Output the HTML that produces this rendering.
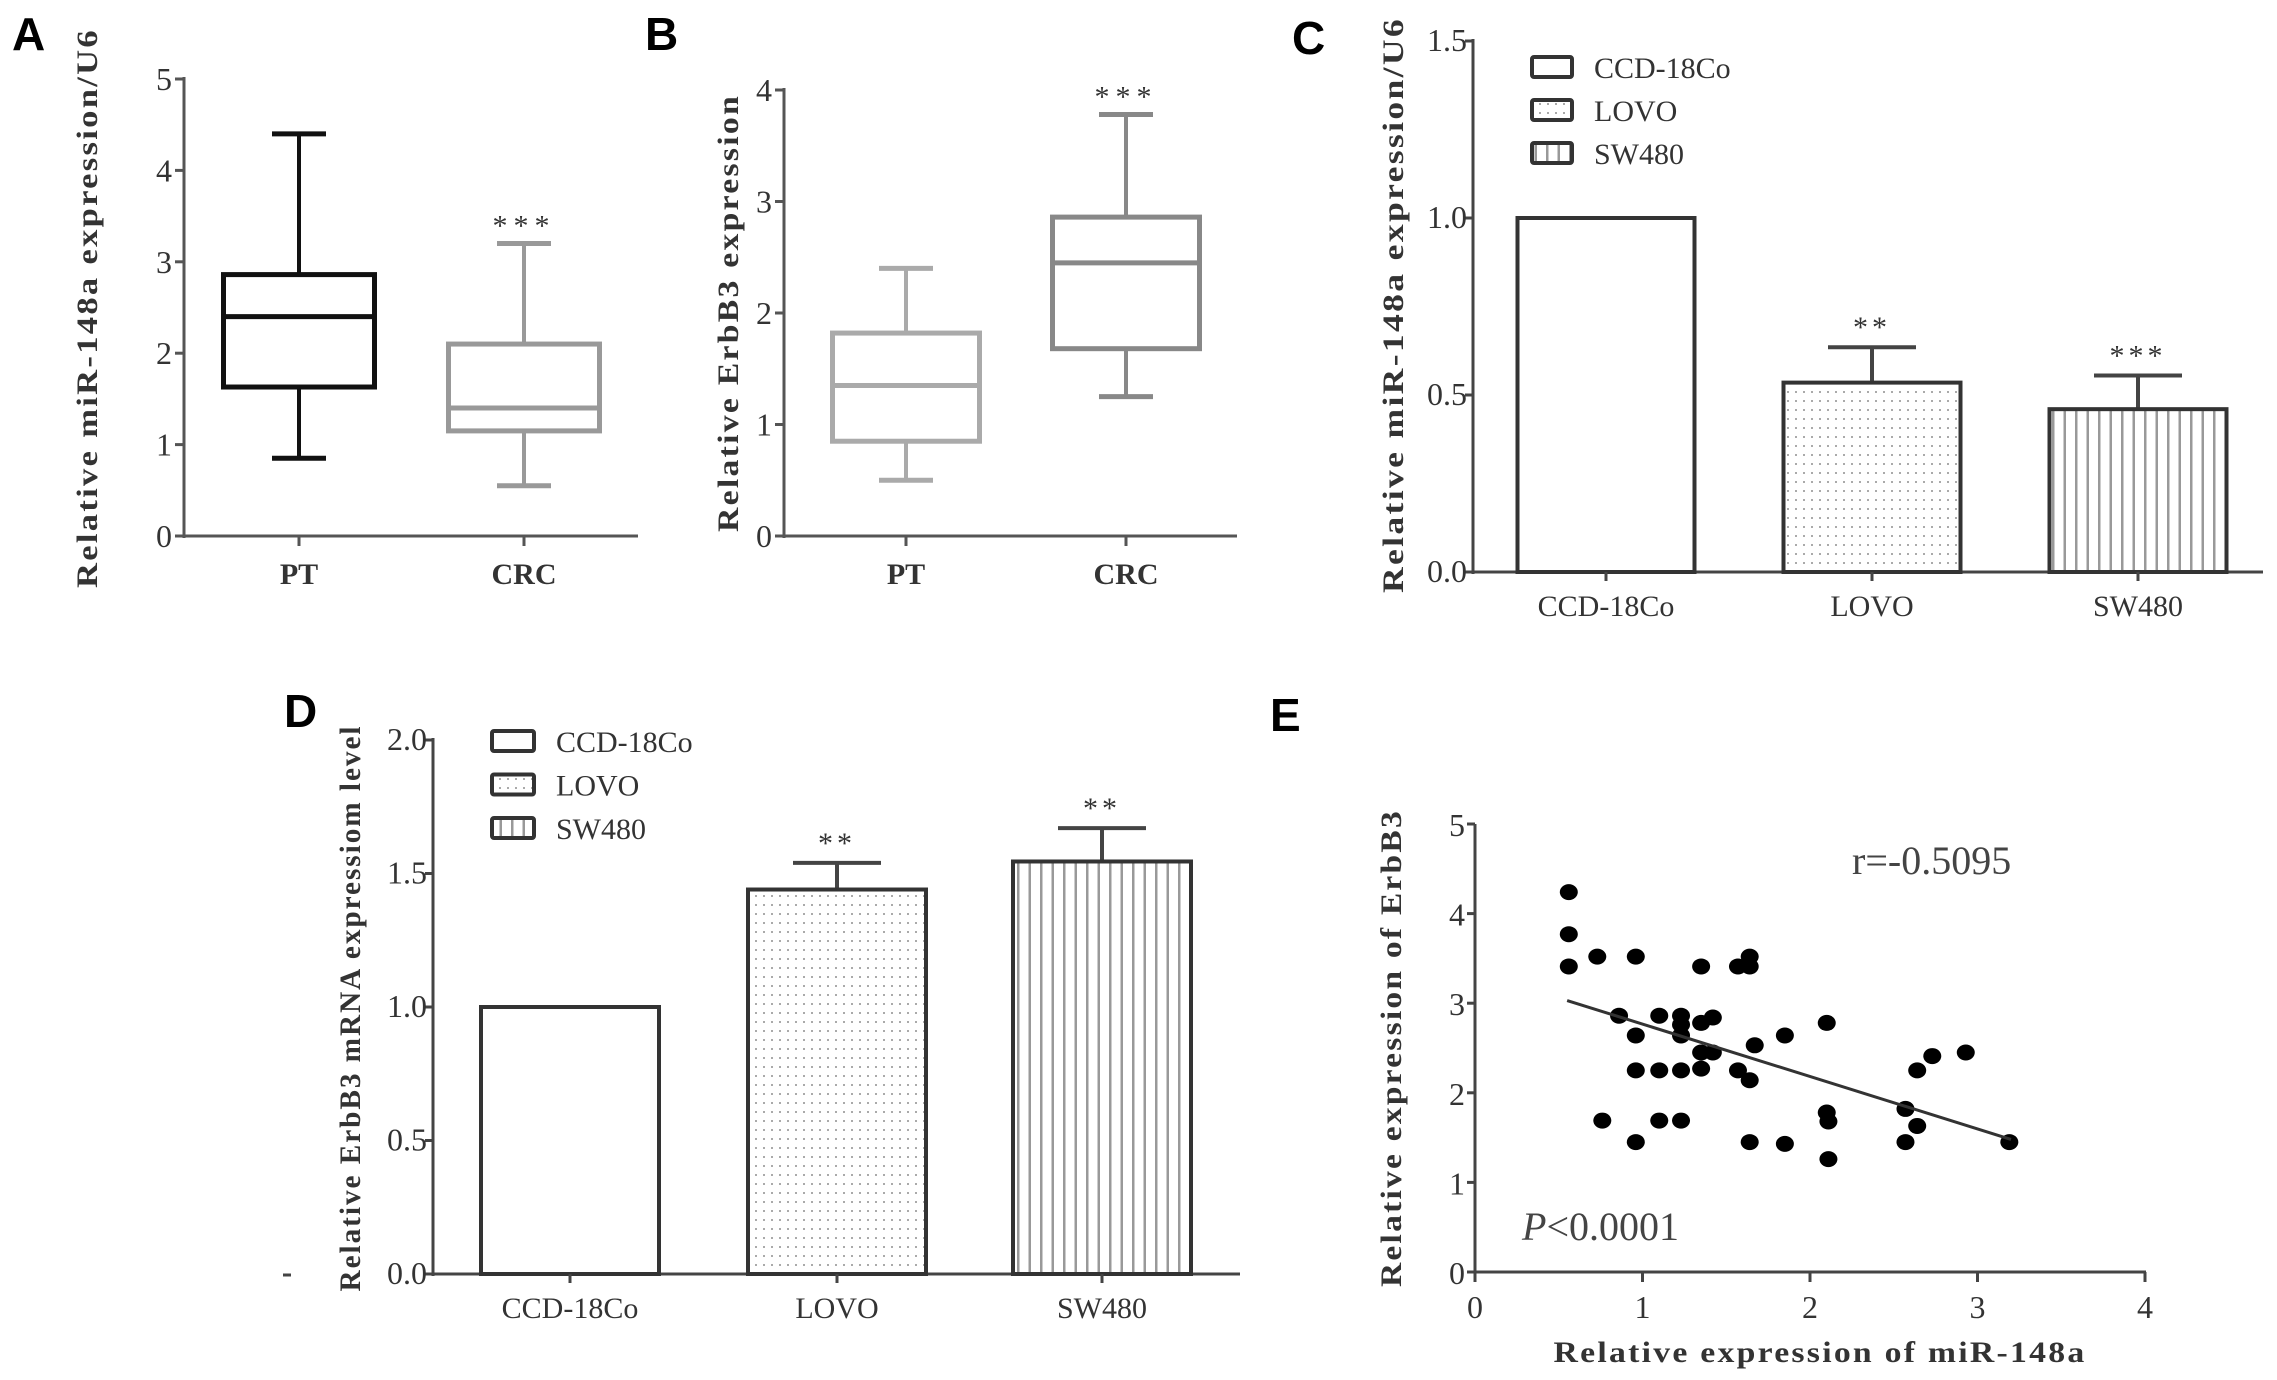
<!DOCTYPE html>
<html><head><meta charset="utf-8"><style>
html,body{margin:0;padding:0;background:#fff;}
svg{display:block;}
text{font-family:"Liberation Serif",serif;}
.lbl{font-family:"Liberation Sans",sans-serif;font-size:46px;font-weight:bold;fill:#000;}
.tick{font-size:32px;fill:#333;}
.cat{font-size:30px;fill:#333;}
.ytitle{font-size:30px;font-weight:bold;fill:#333;letter-spacing:2px;}
.leg{font-size:30px;fill:#333;}
</style></head><body>
<svg id="fig" width="2277" height="1380" viewBox="0 0 2277 1380" xmlns="http://www.w3.org/2000/svg">
<defs>
<pattern id="dots" width="8" height="9" patternUnits="userSpaceOnUse"><rect x="3" y="4" width="2" height="2" fill="#aaa"/></pattern>
<pattern id="vlines" width="11.5" height="10" patternUnits="userSpaceOnUse"><rect x="5" y="0" width="2.5" height="10" fill="#999"/></pattern>
</defs>
<g id="gA"></g>
<g id="gB"></g>
<g id="gC"></g>
<g id="gD"></g>
<g id="gE"></g>
</svg>
<script>
// Panel A data
const aCats = ["PT","CRC"];
const aMin = [0.85,0.55], aQ1=[1.63,1.15], aMed=[2.4,1.4], aQ3=[2.86,2.1], aMax=[4.4,3.2];
const aTicks = [0,1,2,3,4,5];
// Panel B data
const bCats = ["PT","CRC"];
const bMin = [0.5,1.25], bQ1=[0.85,1.68], bMed=[1.35,2.45], bQ3=[1.82,2.86], bMax=[2.4,3.78];
const bTicks = [0,1,2,3,4];
// Panel C data
const cCats = ["CCD-18Co","LOVO","SW480"];
const cVals = [1.0,0.535,0.46];
const cErr = [0,0.1,0.095];
const cSig = ["","**","***"];
const cTicks = ["0.0","0.5","1.0","1.5"];
// Panel D data
const dCats = ["CCD-18Co","LOVO","SW480"];
const dVals = [1.0,1.44,1.545];
const dErr = [0,0.1,0.125];
const dSig = ["","**","**"];
const dTicks = ["0.0","0.5","1.0","1.5","2.0"];
// Panel E data
const eX = [0.56,0.56,0.56,0.73,0.96,0.86,0.96,0.96,0.96,0.76,1.10,1.10,1.10,1.23,1.23,1.23,1.23,1.23,1.35,1.35,1.35,1.35,1.42,1.42,1.57,1.64,1.64,1.57,1.64,1.67,1.64,1.85,1.85,2.10,2.10,2.11,2.11,2.57,2.57,2.64,2.64,2.73,2.93,3.19];
const eY = [4.24,3.77,3.41,3.52,3.52,2.86,2.64,2.25,1.45,1.69,2.86,2.25,1.69,2.86,2.76,2.64,2.25,1.69,3.41,2.78,2.45,2.27,2.84,2.45,3.41,3.52,3.41,2.25,2.14,2.53,1.45,2.64,1.43,2.78,1.78,1.68,1.26,1.82,1.45,2.25,1.63,2.41,2.45,1.45];
const eFitX = [0.55,3.2];
const eFitY = [3.03,1.48];
const eXTicks = [0,1,2,3,4];
const eYTicks = [0,1,2,3,4,5];

const NS="http://www.w3.org/2000/svg";
function mk(parent,tag,attrs,txt){const e=document.createElementNS(NS,tag);for(const k in attrs)e.setAttribute(k,attrs[k]);if(txt!==undefined)e.textContent=txt;parent.appendChild(e);return e;}

function axes(g,x0,y0,xEnd,yTop,col){
  const ya=mk(g,'line',{x1:x0,y1:y0+2,x2:x0,y2:yTop,stroke:col,'stroke-width':3});
  
  
  const xa=mk(g,'line',{x1:x0-2,y1:y0,x2:xEnd,y2:y0,stroke:col,'stroke-width':3});
  
  
}
function yTitle(g,cx,cy,len,txt){
  const t=mk(g,'text',{class:'ytitle',x:0,y:0,'text-anchor':'middle',transform:`translate(${cx},${cy}) rotate(-90)`,textLength:len,lengthAdjust:'spacingAndGlyphs'},txt);
  
  
}
function panelLetter(g,x,y,s){
  const t=mk(g,'text',{class:'lbl',x:x,y:y},s);
  
  
}

function boxPanel(g,cfg){
  const {x0,y0,unit,xEnd,top,cats,mins,q1,med,q3,maxs,ticks,cx,bw,colors,title,titleX,titleLen,titleCy} = cfg;
  const Y=v=>y0-v*unit;
  axes(g,x0,y0,xEnd,Y(ticks[ticks.length-1])-2,'#555');
  ticks.forEach(t=>{
    const l=mk(g,'line',{x1:x0-9,y1:Y(t),x2:x0,y2:Y(t),stroke:'#555','stroke-width':3});
    
    
    const tx=mk(g,'text',{class:'tick',x:x0-12,y:Y(t)+11,'text-anchor':'end'},t);
    
    
  });
  cats.forEach((c,i)=>{
    const x=cx[i], col=colors[i];
    const bg=mk(g,'g',{});
    
    
    mk(bg,'line',{x1:x,y1:Y(maxs[i]),x2:x,y2:Y(q3[i]),stroke:col,'stroke-width':4});
    mk(bg,'line',{x1:x,y1:Y(q1[i]),x2:x,y2:Y(mins[i]),stroke:col,'stroke-width':4});
    mk(bg,'line',{x1:x-27,y1:Y(maxs[i]),x2:x+27,y2:Y(maxs[i]),stroke:col,'stroke-width':5});
    mk(bg,'line',{x1:x-27,y1:Y(mins[i]),x2:x+27,y2:Y(mins[i]),stroke:col,'stroke-width':5});
    mk(bg,'rect',{x:x-bw/2,y:Y(q3[i]),width:bw,height:Y(q1[i])-Y(q3[i]),fill:'none',stroke:col,'stroke-width':5});
    mk(bg,'line',{x1:x-bw/2,y1:Y(med[i]),x2:x+bw/2,y2:Y(med[i]),stroke:col,'stroke-width':5});
    const tk=mk(g,'line',{x1:x,y1:y0,x2:x,y2:y0+10,stroke:'#555','stroke-width':3});
    
    
    const cl=mk(g,'text',{class:'cat',x:x,y:y0+48,'text-anchor':'middle','font-weight':'bold','font-size':'32'},c);
    
    
  });
  const st=mk(g,'text',{class:'cat',x:cx[1],y:Y(maxs[1])-8,'text-anchor':'middle',fill:'#777','font-size':'38','letter-spacing':'6'},'***');
  
  
  yTitle(g,titleX,titleCy,titleLen,title);
}

boxPanel(document.getElementById('gA'),{x0:184,y0:536,unit:91.4,xEnd:638,cats:aCats,mins:aMin,q1:aQ1,med:aMed,q3:aQ3,maxs:aMax,ticks:aTicks,cx:[299,524],bw:151,colors:['#111','#999'],title:'Relative miR-148a expression/U6',titleX:97,titleLen:560,titleCy:308});
boxPanel(document.getElementById('gB'),{x0:784,y0:536,unit:111.5,xEnd:1237,cats:bCats,mins:bMin,q1:bQ1,med:bMed,q3:bQ3,maxs:bMax,ticks:bTicks,cx:[906,1126],bw:147,colors:['#aaa','#888'],title:'Relative ErbB3 expression',titleX:738,titleLen:438,titleCy:313});
panelLetter(document.getElementById('gA'),12,50,'A');
panelLetter(document.getElementById('gB'),645,50,'B');

function barPanel(g,cfg){
  const {x0,y0,unit,xEnd,cats,vals,err,sig,ticks,cx,bw,title,titleX,titleLen,titleCy,leg} = cfg;
  const Y=v=>y0-v*unit;
  axes(g,x0,y0,xEnd,Y(parseFloat(ticks[ticks.length-1]))-2,'#444');
  ticks.forEach(t=>{
    const v=parseFloat(t);
    const l=mk(g,'line',{x1:x0-8,y1:Y(v),x2:x0,y2:Y(v),stroke:'#444','stroke-width':3});
    
    
    const tx=mk(g,'text',{class:'tick',x:x0-6,y:Y(v)+10,'text-anchor':'end'},t);
    
    
  });
  const fills=['#fff','url(#dots)','url(#vlines)'];
  cats.forEach((c,i)=>{
    const x=cx[i];
    const bg=mk(g,'g',{});
    
    
    if(err[i]>0){
      mk(bg,'line',{x1:x,y1:Y(vals[i]),x2:x,y2:Y(vals[i]+err[i]),stroke:'#444','stroke-width':4});
      mk(bg,'line',{x1:x-44,y1:Y(vals[i]+err[i]),x2:x+44,y2:Y(vals[i]+err[i]),stroke:'#444','stroke-width':4});
    }
    mk(bg,'rect',{x:x-bw/2,y:Y(vals[i]),width:bw,height:y0-Y(vals[i]),fill:fills[i],stroke:'#333','stroke-width':4});
    if(sig[i]){
      const st=mk(g,'text',{class:'cat',x:x,y:Y(vals[i]+err[i])-10,'text-anchor':'middle',fill:'#666','font-size':'34','letter-spacing':'4'},sig[i]);
      
      
    }
    const tk=mk(g,'line',{x1:x,y1:y0,x2:x,y2:y0+9,stroke:'#444','stroke-width':3});
    
    
    const cl=mk(g,'text',{class:'cat',x:x,y:y0+44,'text-anchor':'middle','font-size':'30'},c);
    
    
    const le=mk(g,'g',{});
    
    
    const ly=leg.y+i*leg.dy;
    mk(le,'rect',{x:leg.x,y:ly,width:leg.w,height:20,fill:fills[i],stroke:'#333','stroke-width':4,rx:2});
    mk(le,'text',{class:'leg',x:leg.x+leg.w+22,y:ly+21},c);
  });
  yTitle(g,titleX,titleCy,titleLen,title);
}
barPanel(document.getElementById('gC'),{x0:1473,y0:572,unit:354,xEnd:2263,cats:cCats,vals:cVals,err:cErr,sig:cSig,ticks:cTicks,cx:[1606,1872,2138],bw:177,title:'Relative miR-148a expression/U6',titleX:1403,titleLen:576,titleCy:305,leg:{x:1532,y:57,dy:43,w:40}});
barPanel(document.getElementById('gD'),{x0:433,y0:1274,unit:267,xEnd:1240,cats:dCats,vals:dVals,err:dErr,sig:dSig,ticks:dTicks,cx:[570,837,1102],bw:178,title:'Relative ErbB3 mRNA expressiom level',titleX:360,titleLen:567,titleCy:1008,leg:{x:492,y:731,dy:43.5,w:42}});
panelLetter(document.getElementById('gC'),1292,54,'C');
panelLetter(document.getElementById('gD'),284,727,'D');
(function(){const g=document.getElementById('gD');const d=mk(g,'line',{x1:283,y1:1275,x2:291,y2:1275,stroke:'#444','stroke-width':3});})();

// Panel E
(function(){
  const g=document.getElementById('gE');
  const x0=1475,y0=1272,ux=167.5,uy=89.6;
  const X=v=>x0+v*ux, Y=v=>y0-v*uy;
  axes(g,x0,y0,X(4)+1,Y(5),'#444');
  eYTicks.forEach(t=>{
    const l=mk(g,'line',{x1:x0-8,y1:Y(t),x2:x0,y2:Y(t),stroke:'#444','stroke-width':3});
    
    
    const tx=mk(g,'text',{class:'tick',x:x0-10,y:Y(t)+12,'text-anchor':'end','font-size':'36'},t);
    
    
  });
  eXTicks.forEach(t=>{
    const l=mk(g,'line',{x1:X(t),y1:y0,x2:X(t),y2:y0+10,stroke:'#444','stroke-width':3});
    
    
    const tx=mk(g,'text',{class:'tick',x:X(t),y:y0+46,'text-anchor':'middle','font-size':'36'},t);
    
    
  });
  eX.forEach((v,i)=>{
    const c=mk(g,'ellipse',{cx:X(v),cy:Y(eY[i]),rx:9,ry:8,fill:'#000'});
    
    
  });
  const fl=mk(g,'line',{x1:X(eFitX[0]),y1:Y(eFitY[0]),x2:X(eFitX[1]),y2:Y(eFitY[1]),stroke:'#333','stroke-width':3});
  
  
  const r=mk(g,'text',{x:1852,y:874,'font-size':'40',fill:'#444'},'r=-0.5095');
  
  
  const p=mk(g,'text',{x:1522,y:1240,'font-size':'40',fill:'#444'});
  
  
  mk(p,'tspan',{'font-style':'italic'},'P');
  mk(p,'tspan',{},'<0.0001');
  const xt=mk(g,'text',{class:'ytitle',x:1820,y:1362,'text-anchor':'middle',textLength:533,lengthAdjust:'spacingAndGlyphs','font-weight':'bold'},'Relative expression of miR-148a');
  
  
  yTitle(g,1401,1048,478,'Relative expression of ErbB3');
  panelLetter(g,1270,731,'E');
})();
</script>
</body></html>
